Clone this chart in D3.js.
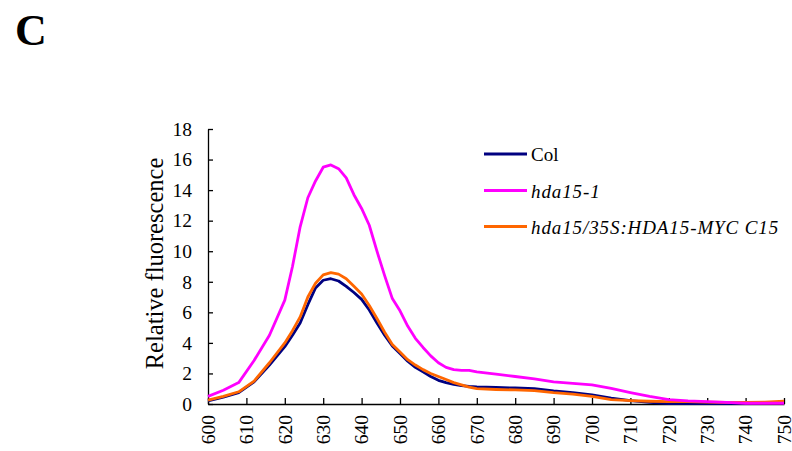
<!DOCTYPE html>
<html>
<head>
<meta charset="utf-8">
<script src="https://cdn.jsdelivr.net/npm/d3@7"></script>
<style>
  body { margin: 0; background: #fff; }
  text { font-family: "Liberation Serif", "Times New Roman", serif; }
</style>
</head>
<body>
<svg id="chart"></svg>
<script>
// wavelength (nm)
var wavelengths = [600,604,608,612,616,620,622,624,626,628,630,632,634,636,638,640,642,644,646,648,650,
  652,654,656,658,660,662,664,666,668,670,675,680,685,690,695,700,705,710,715,720,725,730,735,740,745,750];

var colValues = [0.2,0.45,0.75,1.45,2.55,3.75,4.5,5.3,6.5,7.6,8.1,8.2,8.05,7.7,7.3,6.85,6.15,5.3,4.5,3.8,3.3,
  2.8,2.4,2.1,1.8,1.55,1.4,1.28,1.2,1.15,1.12,1.08,1.05,1.0,0.85,0.75,0.6,0.38,0.22,0.1,0.03,0.02,0.02,0.03,0.05,0.08,0.1];

var hda15Values = [0.5,0.9,1.4,2.85,4.5,6.8,9.0,11.6,13.5,14.6,15.5,15.65,15.4,14.8,13.7,12.8,11.7,10.0,8.4,6.9,6.1,
  5.1,4.3,3.7,3.15,2.7,2.4,2.25,2.2,2.2,2.1,1.95,1.8,1.65,1.45,1.35,1.25,1.02,0.75,0.5,0.28,0.2,0.15,0.1,0.05,0.05,0.05];

var compValues = [0.25,0.5,0.8,1.5,2.7,4.0,4.8,5.7,7.0,7.9,8.45,8.6,8.5,8.2,7.7,7.2,6.45,5.6,4.7,3.9,3.4,
  2.9,2.55,2.25,2.0,1.8,1.6,1.4,1.25,1.1,1.0,0.95,0.92,0.88,0.75,0.65,0.5,0.28,0.22,0.18,0.15,0.15,0.12,0.1,0.1,0.12,0.18];

var seriesNames = ["Col", "hda15-1", "hda15/35S:HDA15-MYC C15"];
var seriesColors = ["#000080", "#ff00ff", "#ff6600"];
var xTicks = [600,610,620,630,640,650,660,670,680,690,700,710,720,730,740,750];
var yTicks = [0,2,4,6,8,10,12,14,16,18];

var screen = { width: 792, height: 451 };
var margins = { top: 129, bottom: 47, left: 208, right: 8 };

var svg = d3.select("#chart")
  .attr("width", screen.width)
  .attr("height", screen.height);

var xScale = d3.scaleLinear()
  .domain([600, 750])
  .range([margins.left, screen.width - margins.right]);

var yScale = d3.scaleLinear()
  .domain([0, 18])
  .range([screen.height - margins.bottom, margins.top]);

// panel letter
svg.append("text")
  .attr("x", 15)
  .attr("y", 45)
  .attr("font-size", 44)
  .attr("font-weight", "bold")
  .text("C");

// axes
var yAxis = d3.axisLeft(yScale).tickValues(yTicks).tickSizeInner(-5).tickSizeOuter(0).tickPadding(16);
var xAxis = d3.axisBottom(xScale).tickValues(xTicks).tickSizeInner(-6).tickSizeOuter(0).tickFormat("");

var yAxisGraphic = svg.append("g")
  .attr("transform", "translate(" + margins.left + ",0)")
  .call(yAxis);
yAxisGraphic.selectAll("text")
  .attr("font-size", 19.5)
  .attr("fill", "#000");

var xAxisGraphic = svg.append("g")
  .attr("transform", "translate(0," + yScale(0) + ")")
  .call(xAxis);

svg.selectAll(".domain, .tick line").attr("stroke", "#000").attr("stroke-width", 1.3);

// rotated x labels
svg.selectAll(".xlabel")
  .data(xTicks)
  .enter()
  .append("text")
  .attr("class", "xlabel")
  .attr("text-anchor", "end")
  .attr("dy", "0.35em")
  .attr("font-size", 19.5)
  .attr("transform", function(d) { return "translate(" + xScale(d) + "," + (yScale(0) + 11) + ") rotate(-90)"; })
  .text(function(d) { return d; });

// y label
svg.append("text")
  .attr("text-anchor", "middle")
  .attr("font-size", 24.5)
  .attr("transform", "translate(163,263.5) rotate(-90)")
  .text("Relative fluorescence");

// lines
var allSeries = [colValues, hda15Values, compValues];
var line = d3.line()
  .x(function(d, i) { return xScale(wavelengths[i]); })
  .y(function(d) { return yScale(d); });

svg.selectAll(".curve")
  .data([0, 2, 1])
  .enter()
  .append("path")
  .attr("class", "curve")
  .attr("d", function(k) { return line(allSeries[k]); })
  .attr("fill", "none")
  .attr("stroke", function(k) { return seriesColors[k]; })
  .attr("stroke-width", 2.8)
  .attr("stroke-linejoin", "round");

// legend
var legendY = [154, 190.5, 226.5];
var legend = svg.selectAll(".legend")
  .data(seriesNames)
  .enter()
  .append("g")
  .attr("class", "legend")
  .attr("transform", function(d, i) { return "translate(484," + legendY[i] + ")"; });

legend.append("line")
  .attr("x1", 0).attr("x2", 43)
  .attr("stroke", function(d, i) { return seriesColors[i]; })
  .attr("stroke-width", 2.8);

legend.append("text")
  .attr("x", 47)
  .attr("y", 7)
  .attr("font-size", 19)
  .attr("font-style", function(d, i) { return i == 0 ? "normal" : "italic"; })
  .attr("letter-spacing", function(d, i) { return i == 0 ? 0 : 0.9; })
  .text(function(d) { return d; });
</script>
</body>
</html>
